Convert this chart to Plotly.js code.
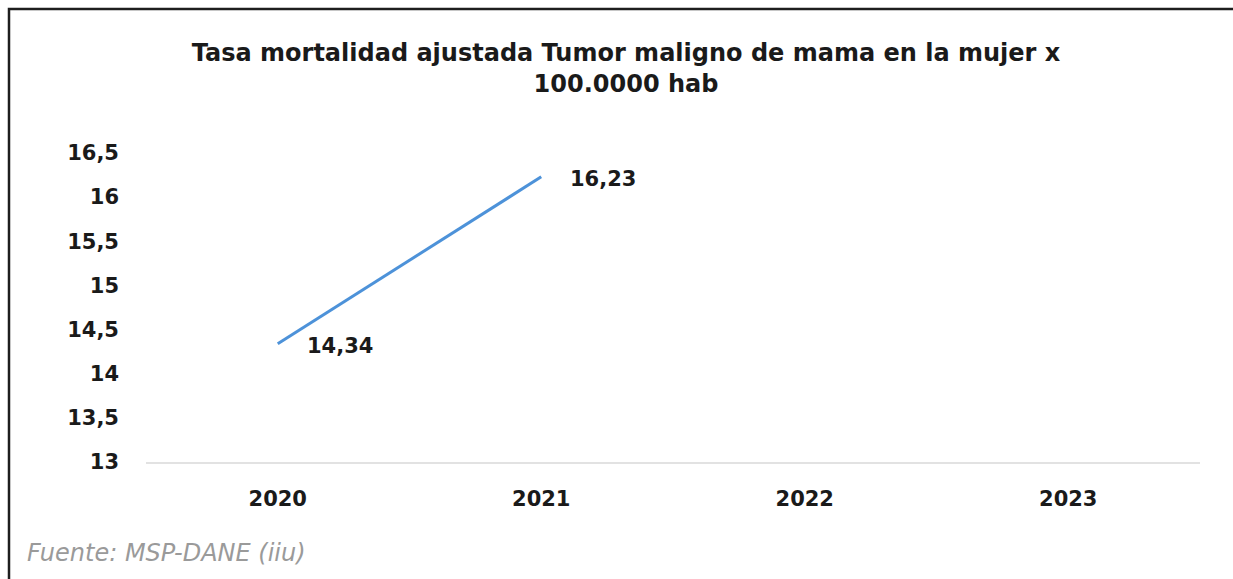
<!DOCTYPE html>
<html>
<head>
<meta charset="utf-8">
<script src="https://cdn.plot.ly/plotly-3.0.1.min.js"></script>
<style>
  html, body { margin: 0; padding: 0; background: #ffffff; }
  #chart { width: 1233px; height: 579px; }
</style>
</head>
<body>
<div id="chart"></div>
<script>
// ---- data ----
const categories = ["2020", "2021", "2022", "2023"];
const years = ["2020", "2021"];
const rates = [14.34, 16.23];
const rateLabels = ["14,34", "16,23"];
const titleText = "Tasa mortalidad ajustada Tumor maligno de mama en la mujer x<br>100.0000 hab";
const sourceText = "Fuente: MSP-DANE (iiu)";

// ---- layout constants ----
const W = 1233, H = 579;
const M = { l: 146, r: 33, t: 153, b: 117 };
const plotW = W - M.l - M.r, plotH = H - M.t - M.b;
const px2x = p => (p - M.l) / plotW;
const py2y = p => (H - M.b - p) / plotH;

const trace = {
  type: "scatter",
  mode: "lines",
  x: years,
  y: rates,
  line: { color: "#4d92d9", width: 3 },
  hoverinfo: "skip",
  showlegend: false
};

// annotations on a category axis are positioned by category index
const labelAnns = years.map((yr, i) => ({
  x: categories.indexOf(yr), y: rates[i], xref: "x", yref: "y",
  text: rateLabels[i], showarrow: false,
  xanchor: "center", yanchor: "middle",
  xshift: 62, yshift: -2,
  font: { family: "DejaVu Sans", size: 21, color: "#1a1a1a", weight: "bold" }
}));

const layout = {
  width: W, height: H,
  margin: M,
  paper_bgcolor: "#ffffff",
  plot_bgcolor: "#ffffff",
  separators: ",.",
  showlegend: false,
  title: {
    text: titleText,
    x: 626 / W, xref: "container", xanchor: "center",
    y: 1 - 61 / H, yref: "container", yanchor: "middle",
    font: { family: "DejaVu Sans", size: 24, color: "#1a1a1a", weight: "bold" }
  },
  xaxis: {
    type: "category",
    categoryorder: "array",
    categoryarray: categories,
    range: [-0.5, categories.length - 0.5],
    showgrid: false, zeroline: false,
    showline: true, linecolor: "#e2e2e2", linewidth: 2,
    ticks: "",
    ticklabelstandoff: 17,
    tickfont: { family: "DejaVu Sans", size: 21, color: "#1a1a1a", weight: "bold" },
    fixedrange: true
  },
  yaxis: {
    range: [13, 16.5],
    dtick: 0.5, tick0: 13,
    showgrid: false, zeroline: false, showline: false,
    ticks: "",
    ticklabelstandoff: 26,
    tickfont: { family: "DejaVu Sans", size: 21, color: "#1a1a1a", weight: "bold" },
    fixedrange: true
  },
  shapes: [{
    type: "rect", xref: "paper", yref: "paper", layer: "below",
    x0: px2x(9), x1: px2x(W + 20),
    y0: py2y(H + 20), y1: py2y(9),
    line: { color: "#1e1e1e", width: 2.5 },
    fillcolor: "rgba(0,0,0,0)"
  }],
  annotations: labelAnns.concat([{
    text: sourceText, showarrow: false,
    xref: "paper", yref: "paper",
    x: px2x(25), y: py2y(553),
    xanchor: "left", yanchor: "middle",
    font: { family: "DejaVu Sans", size: 24, color: "#9a9a9a", style: "italic" }
  }])
};

Plotly.newPlot("chart", [trace], layout, { displayModeBar: false, staticPlot: true });
</script>
</body>
</html>
